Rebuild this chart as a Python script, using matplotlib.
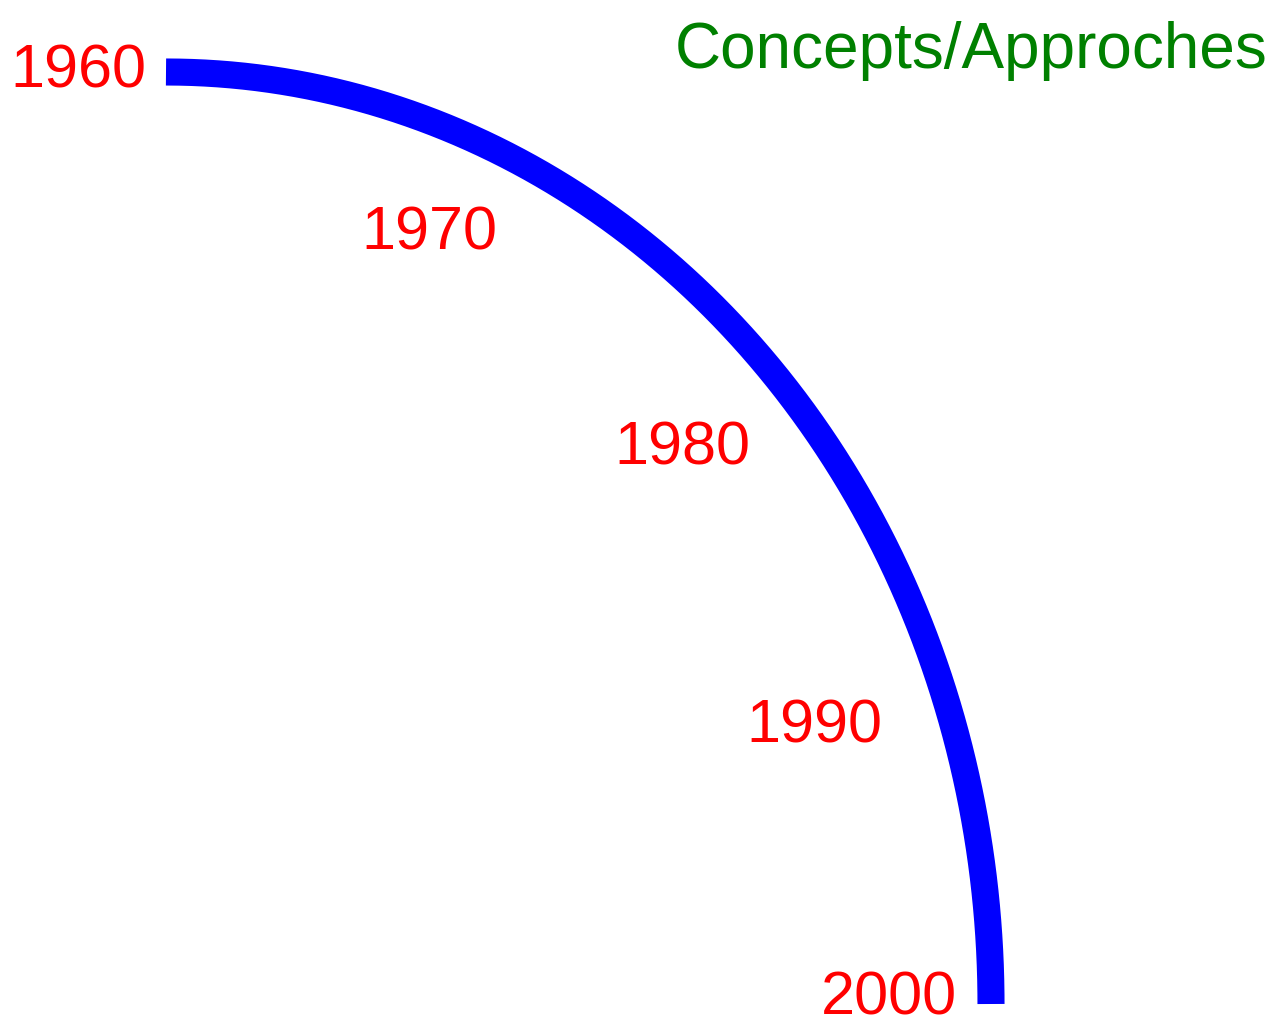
import numpy as np
import matplotlib.pyplot as plt

# timeline arc: quarter ellipse from 1960 (top left) to 2000 (bottom right)
years = ["1960", "1970", "1980", "1990", "2000"]
label_x = [146, 497, 750, 882, 957]
label_y = [87, 249, 465, 743, 1015]
title = "Concepts/Approches"

cx, cy = 166, 1005
rx, ry = 825, 932

fig = plt.figure(figsize=(12.75, 10.2), dpi=100)
ax = fig.add_axes([0, 0, 1, 1])
ax.set_xlim(0, 1275)
ax.set_ylim(1020, 0)
ax.axis("off")

t = np.linspace(0, np.pi / 2, 300)
ax.plot(cx + rx * np.sin(t), cy - ry * np.cos(t), color="blue",
        linewidth=19.5, solid_capstyle="butt")

for yr, x, y in zip(years, label_x, label_y):
    ax.text(x, y, yr, color="red", fontsize=44, family="Liberation Sans",
            ha="right", va="baseline")

ax.text(1268, 68, title, color="green", fontsize=46, family="Liberation Sans",
        ha="right", va="baseline")

fig.savefig("out.png", dpi=100, facecolor="white")
